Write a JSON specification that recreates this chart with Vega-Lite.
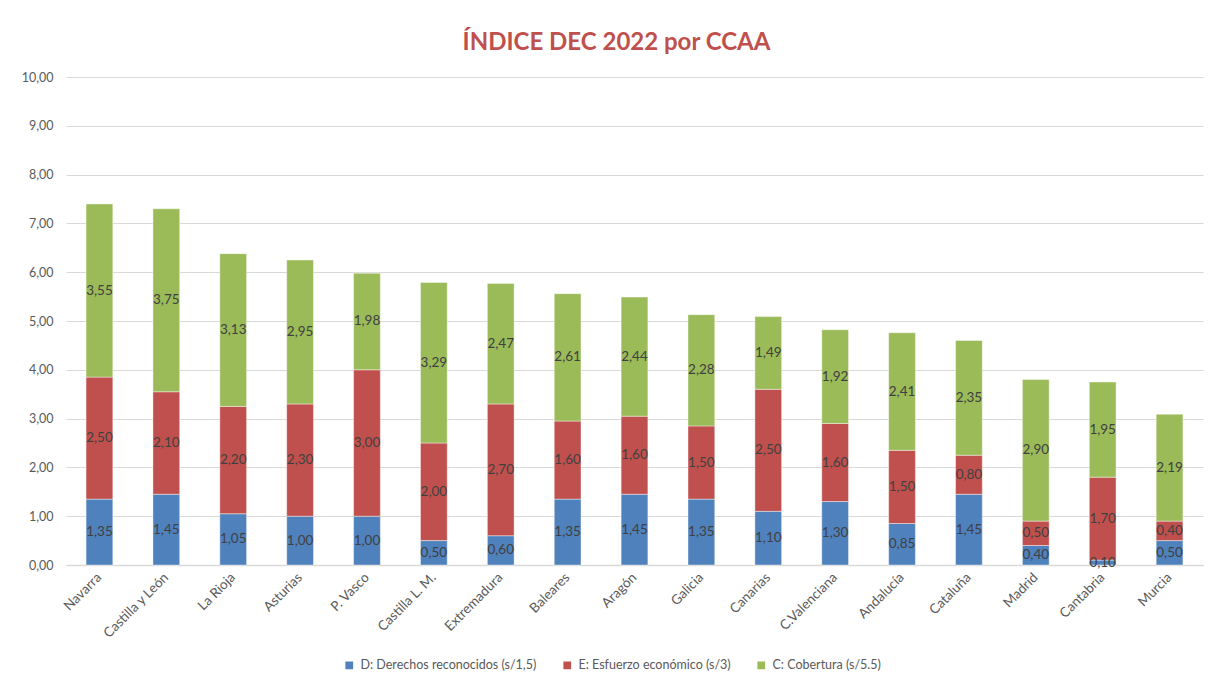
{
  "$schema": "https://vega.github.io/schema/vega-lite/v6.json",
  "width": 1137,
  "height": 488,
  "autosize": {"type": "none"},
  "padding": {"left": 66, "top": 77, "right": 23, "bottom": 128},
  "background": "white",
  "title": {"text": "ÍNDICE DEC 2022 por CCAA", "color": "#C0504D", "font": "Lato", "fontSize": 24, "fontWeight": "bold", "anchor": "middle", "dx": -18, "offset": 16},
  "data": {"values": [
    {"region": "Navarra", "serie": "D: Derechos reconocidos (s/1,5)", "orden": 1, "value": 1.35},
    {"region": "Navarra", "serie": "E: Esfuerzo económico (s/3)", "orden": 2, "value": 2.50},
    {"region": "Navarra", "serie": "C: Cobertura (s/5.5)", "orden": 3, "value": 3.55},
    {"region": "Castilla y León", "serie": "D: Derechos reconocidos (s/1,5)", "orden": 1, "value": 1.45},
    {"region": "Castilla y León", "serie": "E: Esfuerzo económico (s/3)", "orden": 2, "value": 2.10},
    {"region": "Castilla y León", "serie": "C: Cobertura (s/5.5)", "orden": 3, "value": 3.75},
    {"region": "La Rioja", "serie": "D: Derechos reconocidos (s/1,5)", "orden": 1, "value": 1.05},
    {"region": "La Rioja", "serie": "E: Esfuerzo económico (s/3)", "orden": 2, "value": 2.20},
    {"region": "La Rioja", "serie": "C: Cobertura (s/5.5)", "orden": 3, "value": 3.13},
    {"region": "Asturias", "serie": "D: Derechos reconocidos (s/1,5)", "orden": 1, "value": 1.00},
    {"region": "Asturias", "serie": "E: Esfuerzo económico (s/3)", "orden": 2, "value": 2.30},
    {"region": "Asturias", "serie": "C: Cobertura (s/5.5)", "orden": 3, "value": 2.95},
    {"region": "P. Vasco", "serie": "D: Derechos reconocidos (s/1,5)", "orden": 1, "value": 1.00},
    {"region": "P. Vasco", "serie": "E: Esfuerzo económico (s/3)", "orden": 2, "value": 3.00},
    {"region": "P. Vasco", "serie": "C: Cobertura (s/5.5)", "orden": 3, "value": 1.98},
    {"region": "Castilla L. M.", "serie": "D: Derechos reconocidos (s/1,5)", "orden": 1, "value": 0.50},
    {"region": "Castilla L. M.", "serie": "E: Esfuerzo económico (s/3)", "orden": 2, "value": 2.00},
    {"region": "Castilla L. M.", "serie": "C: Cobertura (s/5.5)", "orden": 3, "value": 3.29},
    {"region": "Extremadura", "serie": "D: Derechos reconocidos (s/1,5)", "orden": 1, "value": 0.60},
    {"region": "Extremadura", "serie": "E: Esfuerzo económico (s/3)", "orden": 2, "value": 2.70},
    {"region": "Extremadura", "serie": "C: Cobertura (s/5.5)", "orden": 3, "value": 2.47},
    {"region": "Baleares", "serie": "D: Derechos reconocidos (s/1,5)", "orden": 1, "value": 1.35},
    {"region": "Baleares", "serie": "E: Esfuerzo económico (s/3)", "orden": 2, "value": 1.60},
    {"region": "Baleares", "serie": "C: Cobertura (s/5.5)", "orden": 3, "value": 2.61},
    {"region": "Aragón", "serie": "D: Derechos reconocidos (s/1,5)", "orden": 1, "value": 1.45},
    {"region": "Aragón", "serie": "E: Esfuerzo económico (s/3)", "orden": 2, "value": 1.60},
    {"region": "Aragón", "serie": "C: Cobertura (s/5.5)", "orden": 3, "value": 2.44},
    {"region": "Galicia", "serie": "D: Derechos reconocidos (s/1,5)", "orden": 1, "value": 1.35},
    {"region": "Galicia", "serie": "E: Esfuerzo económico (s/3)", "orden": 2, "value": 1.50},
    {"region": "Galicia", "serie": "C: Cobertura (s/5.5)", "orden": 3, "value": 2.28},
    {"region": "Canarias", "serie": "D: Derechos reconocidos (s/1,5)", "orden": 1, "value": 1.10},
    {"region": "Canarias", "serie": "E: Esfuerzo económico (s/3)", "orden": 2, "value": 2.50},
    {"region": "Canarias", "serie": "C: Cobertura (s/5.5)", "orden": 3, "value": 1.49},
    {"region": "C.Valenciana", "serie": "D: Derechos reconocidos (s/1,5)", "orden": 1, "value": 1.30},
    {"region": "C.Valenciana", "serie": "E: Esfuerzo económico (s/3)", "orden": 2, "value": 1.60},
    {"region": "C.Valenciana", "serie": "C: Cobertura (s/5.5)", "orden": 3, "value": 1.92},
    {"region": "Andalucía", "serie": "D: Derechos reconocidos (s/1,5)", "orden": 1, "value": 0.85},
    {"region": "Andalucía", "serie": "E: Esfuerzo económico (s/3)", "orden": 2, "value": 1.50},
    {"region": "Andalucía", "serie": "C: Cobertura (s/5.5)", "orden": 3, "value": 2.41},
    {"region": "Cataluña", "serie": "D: Derechos reconocidos (s/1,5)", "orden": 1, "value": 1.45},
    {"region": "Cataluña", "serie": "E: Esfuerzo económico (s/3)", "orden": 2, "value": 0.80},
    {"region": "Cataluña", "serie": "C: Cobertura (s/5.5)", "orden": 3, "value": 2.35},
    {"region": "Madrid", "serie": "D: Derechos reconocidos (s/1,5)", "orden": 1, "value": 0.40},
    {"region": "Madrid", "serie": "E: Esfuerzo económico (s/3)", "orden": 2, "value": 0.50},
    {"region": "Madrid", "serie": "C: Cobertura (s/5.5)", "orden": 3, "value": 2.90},
    {"region": "Cantabria", "serie": "D: Derechos reconocidos (s/1,5)", "orden": 1, "value": 0.10},
    {"region": "Cantabria", "serie": "E: Esfuerzo económico (s/3)", "orden": 2, "value": 1.70},
    {"region": "Cantabria", "serie": "C: Cobertura (s/5.5)", "orden": 3, "value": 1.95},
    {"region": "Murcia", "serie": "D: Derechos reconocidos (s/1,5)", "orden": 1, "value": 0.50},
    {"region": "Murcia", "serie": "E: Esfuerzo económico (s/3)", "orden": 2, "value": 0.40},
    {"region": "Murcia", "serie": "C: Cobertura (s/5.5)", "orden": 3, "value": 2.19}
  ]},
  "transform": [
    {"stack": "value", "groupby": ["region"], "sort": [{"field": "orden", "order": "ascending"}], "as": ["v0", "v1"]},
    {"calculate": "(datum.v0 + datum.v1) / 2", "as": "mid"}
  ],
  "encoding": {
    "x": {
      "field": "region", "type": "nominal", "sort": null,
      "scale": {"paddingInner": 0.6, "paddingOuter": 0.3},
      "axis": {"title": null, "labelAngle": -45, "labelAlign": "right", "labelBaseline": "middle", "ticks": false, "domainColor": "#d9d9d9", "domainWidth": 1.5, "labelColor": "#595959", "labelFont": "Lato", "labelFontSize": 13.5, "labelPadding": 10}
    }
  },
  "layer": [
    {
      "mark": {"type": "bar", "stroke": "#ffffff", "strokeWidth": 0.6, "strokeOpacity": 0.7},
      "encoding": {
        "y": {"field": "v0", "type": "quantitative", "scale": {"domain": [0, 10]},
          "axis": {"title": null, "values": [0, 1, 2, 3, 4, 5, 6, 7, 8, 9, 10], "format": ".2f", "domain": false, "ticks": false, "gridColor": "#d9d9d9", "gridWidth": 1.2, "labelColor": "#595959", "labelFont": "Lato", "labelFontSize": 12.5, "labelPadding": 13}},
        "y2": {"field": "v1"},
        "color": {
          "field": "serie", "type": "nominal",
          "scale": {"domain": ["D: Derechos reconocidos (s/1,5)", "E: Esfuerzo económico (s/3)", "C: Cobertura (s/5.5)"], "range": ["#4F81BD", "#C0504D", "#9BBB59"]},
          "legend": {"orient": "none", "legendX": 277, "legendY": 582, "direction": "horizontal", "title": null, "symbolType": "square", "symbolSize": 60, "symbolStrokeWidth": 0, "labelFont": "Lato", "labelFontSize": 12.5, "labelLimit": 0, "labelColor": "#595959", "columnPadding": 24, "labelOffset": 5}
        }
      }
    },
    {
      "mark": {"type": "text", "font": "Lato", "fontSize": 13.5, "color": "#404040"},
      "encoding": {
        "y": {"field": "mid", "type": "quantitative"},
        "text": {"field": "value", "type": "quantitative", "format": ".2f"}
      }
    }
  ],
  "config": {
    "locale": {"number": {"decimal": ",", "thousands": ".", "grouping": [3], "currency": ["", " €"]}},
    "view": {"stroke": null}
  }
}
